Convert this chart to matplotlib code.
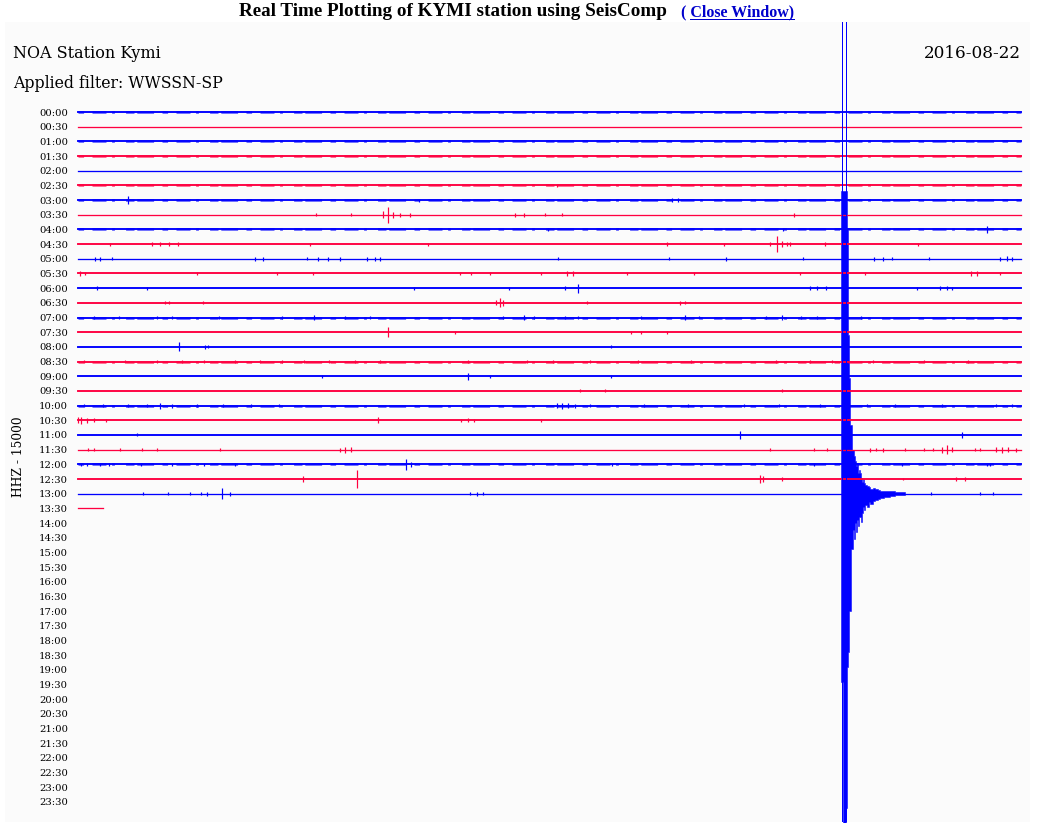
import matplotlib
matplotlib.use('Agg')
import matplotlib.pyplot as plt
from matplotlib.lines import Line2D

W, H = 1037, 835

# helicorder rows, 30 minutes each
row_labels = ['%02d:%02d' % (h, m) for h in range(24) for m in (0, 30)]
trace_colors = ['#0000ff', '#ff0040']  # :00 rows blue, :30 rows red

# look of each recorded row (00:00 .. 13:30)
row_style = ['noisy', 'thin', 'noisy', 'noisy', 'thin', 'noisy', 'noisy', 'thin',
             'noisy', 'thick', 'thin', 'thick', 'thick', 'thick', 'noisy', 'thick',
             'thick', 'noisy', 'thick', 'thick', 'noisy', 'thick', 'thick', 'thin',
             'noisy', 'thick', 'thin', 'thin']
trace_end = [30.0] * 27 + [0.8]  # minutes recorded in each row

# small events: (minute, half amplitude in row spacings)
events = {
    '02:30': [(15.24, 0.12)],
    '03:00': [(1.59, 0.28), (10.85, 0.1), (18.90, 0.14), (19.09, 0.14)],
    '03:30': [(7.57, 0.1), (8.68, 0.1), (9.70, 0.25), (9.85, 0.55), (10.02, 0.2),
              (10.24, 0.12), (10.56, 0.12), (13.90, 0.12), (14.2, 0.12), (14.86, 0.1),
              (15.40, 0.1), (22.78, 0.12)],
    '04:00': [(14.95, 0.1), (22.43, 0.1), (28.92, 0.22)],
    '04:30': [(1.02, 0.1), (2.35, 0.14), (2.6, 0.12), (2.9, 0.14), (3.18, 0.12),
              (7.38, 0.1), (11.13, 0.1), (18.74, 0.12), (20.55, 0.1), (22.02, 0.14),
              (22.24, 0.55), (22.4, 0.2), (22.55, 0.15), (22.65, 0.12), (23.76, 0.14),
              (26.72, 0.1)],
    '05:00': [(0.54, 0.12), (0.70, 0.12), (1.08, 0.1), (5.63, 0.12), (5.9, 0.12),
              (7.29, 0.1), (7.64, 0.12), (7.95, 0.14), (8.34, 0.12), (9.19, 0.12),
              (9.45, 0.14), (9.61, 0.12), (15.27, 0.1), (18.80, 0.1), (20.62, 0.14),
              (23.07, 0.1), (25.32, 0.12), (25.6, 0.12), (25.90, 0.1), (27.07, 0.1),
              (29.33, 0.12), (29.56, 0.16), (29.7, 0.14)],
    '05:30': [(0.06, 0.14), (0.22, 0.12), (3.79, 0.1), (6.33, 0.12), (7.48, 0.1),
              (12.15, 0.12), (12.5, 0.1), (13.11, 0.1), (14.73, 0.1), (15.55, 0.2),
              (15.75, 0.15), (17.47, 0.1), (19.6, 0.1), (22.97, 0.1), (25.04, 0.1),
              (28.4, 0.16), (28.6, 0.2), (29.33, 0.1)],
    '06:00': [(0.60, 0.14), (2.20, 0.1), (10.69, 0.1), (13.71, 0.1), (15.49, 0.12),
              (15.91, 0.3), (23.29, 0.15), (23.5, 0.12), (23.8, 0.12), (26.69, 0.1),
              (27.42, 0.12), (27.65, 0.12), (27.81, 0.1)],
    '06:30': [(2.77, 0.1), (2.9, 0.1), (3.98, 0.1), (13.3, 0.18), (13.43, 0.3),
              (13.52, 0.2), (16.19, 0.1), (19.15, 0.14), (19.31, 0.1)],
    '07:00': [(0.5, 0.12), (1.3, 0.1), (2.5, 0.12), (3.0, 0.12), (4.5, 0.1), (6.5, 0.12),
              (7.5, 0.14), (8.5, 0.12), (9.3, 0.1), (13.52, 0.1), (14.2, 0.14),
              (14.5, 0.12), (15.49, 0.12), (15.91, 0.1), (17.91, 0.12), (19.31, 0.14),
              (19.76, 0.12), (21.9, 0.12), (22.4, 0.14), (23.0, 0.12), (23.5, 0.12),
              (24.9, 0.1)],
    '07:30': [(9.85, 0.34), (11.99, 0.1), (17.59, 0.1), (17.91, 0.1), (18.74, 0.1)],
    '08:00': [(3.21, 0.3), (4.04, 0.12), (4.15, 0.1), (16.96, 0.1)],
    '08:30': [(0.2, 0.1), (1.5, 0.1), (2.5, 0.12), (3.3, 0.1), (4.0, 0.12), (5.0, 0.12),
              (5.8, 0.12), (6.5, 0.12), (7.2, 0.1), (8.0, 0.12), (8.8, 0.12), (9.6, 0.1),
              (12.4, 0.1), (14.3, 0.12), (15.1, 0.12), (16.3, 0.1), (17.8, 0.1),
              (19.5, 0.1), (22.2, 0.12), (23.3, 0.12), (24.0, 0.12), (25.3, 0.12),
              (26.9, 0.12), (28.3, 0.12)],
    '09:00': [(7.76, 0.1), (12.41, 0.25), (13.11, 0.1), (16.96, 0.1)],
    '09:30': [(15.97, 0.1), (16.77, 0.1), (22.4, 0.1)],
    '10:00': [(0.2, 0.12), (0.8, 0.1), (1.6, 0.12), (2.2, 0.12), (2.6, 0.2), (3.0, 0.14),
              (3.8, 0.12), (4.6, 0.1), (5.5, 0.12), (6.4, 0.1), (15.24, 0.15),
              (15.4, 0.2), (15.6, 0.18), (15.8, 0.14), (16.3, 0.1), (18.0, 0.1),
              (19.4, 0.12), (21.2, 0.1), (22.3, 0.12), (23.6, 0.12), (25.1, 0.1),
              (26.0, 0.12), (27.5, 0.1), (29.2, 0.12), (29.7, 0.12)],
    '10:30': [(0.0, 0.2), (0.1, 0.25), (0.3, 0.18), (0.5, 0.15), (0.9, 0.1), (9.54, 0.2),
              (12.2, 0.12), (12.4, 0.14), (12.6, 0.1), (14.73, 0.1)],
    '11:00': [(1.88, 0.1), (21.06, 0.28), (28.12, 0.2)],
    '11:30': [(0.32, 0.1), (0.5, 0.12), (1.34, 0.1), (2.04, 0.1), (2.51, 0.1), (4.52, 0.1),
              (8.34, 0.14), (8.5, 0.2), (8.7, 0.15), (22.02, 0.12), (23.4, 0.1),
              (23.83, 0.1), (25.2, 0.14), (25.4, 0.12), (25.6, 0.14), (26.31, 0.1),
              (26.9, 0.1), (27.2, 0.12), (27.5, 0.2), (27.65, 0.3), (27.8, 0.15),
              (28.54, 0.12), (28.7, 0.1), (29.2, 0.15), (29.4, 0.2), (29.6, 0.16),
              (29.85, 0.14)],
    '12:00': [(0.1, 0.12), (0.3, 0.1), (0.70, 0.1), (1.0, 0.1), (2.0, 0.1), (3.0, 0.1),
              (4.0, 0.1), (5.0, 0.1), (10.43, 0.36), (10.6, 0.15), (17.0, 0.1),
              (23.4, 0.1), (26.2, 0.1), (28.92, 0.12), (29.0, 0.12)],
    '12:30': [(7.16, 0.22), (8.88, 0.62), (21.70, 0.3), (21.8, 0.2), (22.4, 0.14),
              (26.25, 0.1), (27.93, 0.14), (28.22, 0.12)],
    '13:00': [(2.07, 0.1), (2.86, 0.1), (3.56, 0.1), (3.9, 0.12), (4.1, 0.14),
              (4.58, 0.36), (4.84, 0.14), (12.47, 0.12), (12.7, 0.14), (12.9, 0.12),
              (27.14, 0.1), (28.7, 0.12), (29.1, 0.12)],
}

# the big (clipped) quake on the 13:00 row: envelope in row spacings
quake_row = '13:00'
quake_t = [24.27, 24.35, 24.42, 24.45, 24.47, 24.48, 24.50, 24.51, 24.53, 24.54,
           24.56, 24.58, 24.62, 24.65, 24.69, 24.72, 24.75, 24.78, 24.81, 24.85,
           24.88, 24.91, 24.94, 24.97, 25.01, 25.05, 25.10, 25.15, 25.20, 25.28,
           25.36, 25.45, 25.51, 25.65, 25.83, 26.00, 26.31]
quake_up = [20.6, 20.6, 20.6, 20.6, 18.1, 18.1, 10.8, 10.8, 7.9, 7.9,
            4.7, 4.7, 3.0, 3.0, 2.6, 2.2, 1.9, 2.1, 1.43, 1.6,
            1.43, 1.1, 0.8, 1.0, 0.7, 0.6, 0.5, 0.45, 0.35, 0.4,
            0.3, 0.25, 0.2, 0.18, 0.15, 0.1, 0.0]
quake_dn = [12.8, 22.4, 21.4, 15.0, 15.0, 11.8, 11.8, 10.8, 10.8, 8.0,
            8.0, 3.8, 3.8, 2.45, 3.1, 2.0, 2.6, 1.8, 2.2, 1.6,
            1.57, 1.9, 1.3, 0.89, 1.1, 0.8, 0.9, 0.6, 0.7, 0.5,
            0.41, 0.35, 0.3, 0.25, 0.15, 0.1, 0.0]
quake_spikes = [24.31, 24.42]  # swings that run off the whole sheet

# pixel layout of the sheet
x0_px, x1_px = 78, 1021
y0_px, dy_px = 112, 14.68
panel = (5, 22, 1030, 822)
ppm = (x1_px - x0_px) / 30.0
PX = 0.72  # one pixel in points

fig = plt.figure(figsize=(W / 100, H / 100), dpi=100)
fig.patch.set_facecolor('white')
ax = fig.add_axes([panel[0] / W, 1 - panel[3] / H,
                   (panel[2] - panel[0]) / W, (panel[3] - panel[1]) / H])
ax.set_facecolor('#fbfbfb')
ax.set_xlim((panel[0] - x0_px) / ppm, 30 + (panel[2] - x1_px) / ppm)
ax.set_ylim((panel[3] - y0_px) / dy_px, (panel[1] - y0_px) / dy_px)
ax.set_xticks([])
ax.set_yticks([])
for s in ax.spines.values():
    s.set_visible(False)

serif = 'DejaVu Serif'

for r, lab in enumerate(row_labels):
    ax.text((68 - x0_px) / ppm, r, lab, ha='right', va='center_baseline',
            fontsize=7.2, family=serif, color='black')

for r, style in enumerate(row_style):
    lab = row_labels[r]
    c = trace_colors[r % 2]
    end = trace_end[r]
    if style == 'thin':
        ax.plot([0, end], [r, r], color=c, lw=1.3 * PX)
    else:
        ax.plot([0, end], [r, r], color=c, lw=1.9 * PX)
    if style == 'noisy':
        ax.plot([0, end], [r, r], color=c, lw=2.8 * PX, alpha=0.6,
                dashes=(2, 3, 5, 2, 1, 4, 3, 1, 6, 3), solid_capstyle='butt')
    ev = events.get(lab, [])
    if ev:
        ts = [e[0] for e in ev]
        amps = [e[1] for e in ev]
        ax.vlines(ts, [r - a for a in amps], [r + a for a in amps],
                  colors=c, lw=1.2 * PX)

qr = row_labels.index(quake_row)
ax.fill_between(quake_t, [qr - u for u in quake_up], [qr + d for d in quake_dn],
                step='post', color='#0000ff', lw=0.5 * PX)
ax.vlines(quake_spikes, -10, 60, colors='#0000ff', lw=1.0 * PX)

# header texts on the sheet
ax.text((13 - x0_px) / ppm, (53 - y0_px) / dy_px, 'NOA Station Kymi', ha='left',
        va='center', fontsize=11.5, family=serif)
ax.text((13 - x0_px) / ppm, (84 - y0_px) / dy_px, 'Applied filter: WWSSN-SP',
        ha='left', va='center', fontsize=11.3, family=serif)
ax.text(30, (53 - y0_px) / dy_px, '2016-08-22', ha='right', va='center',
        fontsize=12.2, family=serif)
ax.text((18 - x0_px) / ppm, (457 - y0_px) / dy_px, 'HHZ - 15000', ha='center',
        va='center', rotation=90, fontsize=8.8, family=serif)

# page title above the sheet
fig.text(453 / W, 1 - 12 / H, 'Real Time Plotting of KYMI station using SeisComp',
         ha='center', va='center', fontsize=13.8, family='Liberation Serif',
         weight='bold', color='black')
fig.text(681 / W, 1 - 12 / H, '( Close Window)', ha='left', va='center',
         fontsize=11.5, family='Liberation Serif', weight='bold', color='#0000cc')
fig.add_artist(Line2D([690 / W, 794 / W], [1 - 19 / H, 1 - 19 / H],
                      color='#0000cc', lw=1.0 * PX))

fig.savefig('out.png', dpi=100)
